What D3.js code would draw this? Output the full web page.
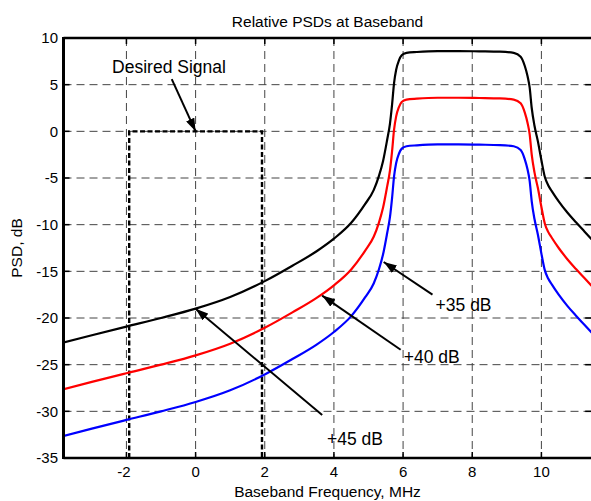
<!DOCTYPE html>
<html>
<head>
<meta charset="utf-8">
<script src="https://cdn.jsdelivr.net/npm/d3@7/dist/d3.min.js"></script>
<style>
  body { margin: 0; background: #fff; }
  text { font-family: "Liberation Sans", Arial, Helvetica, sans-serif; fill: #000; }
</style>
</head>
<body>
<div id="viz"></div>
<script>
// DATA
var freq  = [-3.84, -3, -2, -1, 0, 1, 2, 2.8, 3.5, 4, 4.5, 4.9, 5.15, 5.3, 5.42, 5.54, 5.62, 5.68, 5.74, 5.8, 5.88, 5.96,
             6.1, 6.4, 7.0, 7.6, 8.2, 8.8, 9.2, 9.4, 9.52, 9.6, 9.66, 9.72, 9.8, 9.9, 10.0, 10.1, 10.2, 10.3, 10.5, 10.75, 11.0, 11.25, 11.5];
var psd45 = [-22.65, -21.85, -20.92, -20.0, -19.0, -17.75, -16.05, -14.4, -12.85, -11.5, -9.8, -7.8, -6.3, -4.8, -3.2, -0.9, 0.8, 2.8, 5.2, 6.6, 7.6, 8.15,
             8.4, 8.5, 8.6, 8.6, 8.57, 8.53, 8.4, 8.0, 7.0, 5.9, 4.7, 2.5, 0.6, -1.1, -3.1, -4.9, -5.8, -6.4, -7.5, -8.7, -9.75, -10.75, -11.75];
var psd40 = [-27.65, -26.85, -25.92, -25.0, -24.0, -22.75, -21.05, -19.4, -17.85, -16.5, -14.8, -12.8, -11.3, -9.8, -8.2, -5.9, -4.2, -2.2, 0.2, 1.6, 2.6, 3.15,
             3.4, 3.5, 3.6, 3.6, 3.57, 3.53, 3.4, 3.0, 2.0, 0.9, -0.3, -2.5, -4.4, -6.1, -8.1, -9.9, -10.8, -11.4, -12.5, -13.7, -14.75, -15.75, -16.75];
var psd35 = [-32.65, -31.85, -30.92, -30.0, -29.0, -27.75, -26.05, -24.4, -22.85, -21.5, -19.8, -17.8, -16.3, -14.8, -13.2, -10.9, -9.2, -7.2, -4.8, -3.4, -2.4, -1.85,
             -1.6, -1.5, -1.4, -1.4, -1.43, -1.47, -1.6, -2.0, -3.0, -4.1, -5.3, -7.5, -9.4, -11.1, -13.1, -14.9, -15.8, -16.4, -17.5, -18.7, -19.75, -20.75, -21.75];
var desiredFreq = [-1.92, -1.92, 1.92, 1.92];
var desiredPsd  = [-35, 0, 0, -35];
var xTicks = [-2, 0, 2, 4, 6, 8, 10];
var yTicks = [-35, -30, -25, -20, -15, -10, -5, 0, 5, 10];

// annotations: label, label anchor, arrow tail, arrow tip (data units)
var notes = [
  { text: "Desired Signal", lx: -0.77, ly: 6.2, anchor: "middle", from: [-0.69, 5.6], to: [0, 0] },
  { text: "+45 dB", lx: 3.8, ly: -33.6, anchor: "start", from: [3.66, -30.4], to: [0, -19] },
  { text: "+40 dB", lx: 6.02, ly: -24.8, anchor: "start", from: [5.93, -23.4], to: [3.66, -17.6] },
  { text: "+35 dB", lx: 6.94, ly: -19.2, anchor: "start", from: [6.85, -17.5], to: [5.44, -14.0] }
];

var W = 591, H = 501;
var x = d3.scaleLinear().domain([-3.82, 11.44]).range([63.5, 591.2]);
var y = d3.scaleLinear().domain([-35, 10]).range([458, 38]);

var svg = d3.select("#viz").append("svg")
  .attr("width", W).attr("height", H);

svg.append("defs").append("clipPath").attr("id", "plotclip")
  .append("rect").attr("x", 63.5).attr("y", 38).attr("width", 591.2 - 63.5).attr("height", 420);

var marker = svg.select("defs").append("marker")
  .attr("id", "head").attr("markerUnits", "userSpaceOnUse")
  .attr("viewBox", "0 0 13 9").attr("refX", 13).attr("refY", 4.5)
  .attr("markerWidth", 13).attr("markerHeight", 9).attr("orient", "auto");
marker.append("path").attr("d", "M0,0L13,4.5L0,9Z").attr("fill", "#000");

// GRID
var grid = svg.append("g").attr("stroke", "#444").attr("stroke-width", 1).attr("stroke-dasharray", "8,5");
grid.selectAll(".gx").data(xTicks).enter().append("line")
  .attr("x1", d => x(d)).attr("x2", d => x(d)).attr("y1", 38).attr("y2", 458);
grid.selectAll(".gy").data(yTicks).enter().append("line")
  .attr("x1", 63.5).attr("x2", 591.2).attr("y1", d => y(d)).attr("y2", d => y(d));

var plot = svg.append("g").attr("clip-path", "url(#plotclip)");

// DESIRED SIGNAL BOX
plot.append("path")
  .attr("d", d3.line().x((d, i) => x(desiredFreq[i])).y(d => y(d))(desiredPsd))
  .attr("fill", "none").attr("stroke", "#000").attr("stroke-width", 2.4).attr("stroke-dasharray", "5,2.5");

// CURVES
var line = d3.line().curve(d3.curveMonotoneX).x((d, i) => x(freq[i])).y(d => y(d));
[[psd45, "#000"], [psd40, "#ff0000"], [psd35, "#0000ff"]].forEach(function (s) {
  plot.append("path").attr("d", line(s[0]))
    .attr("fill", "none").attr("stroke", s[1]).attr("stroke-width", 2.2);
});

// AXES (matlab box with inward ticks)
var ax = svg.append("g").attr("stroke", "#000");
ax.append("line").attr("x1", 63.5).attr("x2", 591.2).attr("y1", 38).attr("y2", 38).attr("stroke-width", 2.5);
ax.append("line").attr("x1", 63.5).attr("x2", 591.2).attr("y1", 458).attr("y2", 458).attr("stroke-width", 2.5);
ax.append("line").attr("x1", 63.5).attr("x2", 63.5).attr("y1", 37).attr("y2", 459).attr("stroke-width", 3);
xTicks.forEach(function (t) {
  ax.append("line").attr("x1", x(t)).attr("x2", x(t)).attr("y1", 38).attr("y2", 44).attr("stroke-width", 1.5);
  ax.append("line").attr("x1", x(t)).attr("x2", x(t)).attr("y1", 458).attr("y2", 452).attr("stroke-width", 1.5);
});
yTicks.forEach(function (t) {
  ax.append("line").attr("x1", 63.5).attr("x2", 69.5).attr("y1", y(t)).attr("y2", y(t)).attr("stroke-width", 1.5);
  ax.append("line").attr("x1", 591.2).attr("x2", 585.2).attr("y1", y(t)).attr("y2", y(t)).attr("stroke-width", 1.5);
});

// TICK LABELS
svg.selectAll(".xt").data(xTicks).enter().append("text")
  .attr("x", d => x(d) - (d < 0 ? 2.5 : 0)).attr("y", 477)
  .attr("text-anchor", "middle").style("font-size", "15px").text(d => String(d));
svg.selectAll(".yt").data(yTicks).enter().append("text")
  .attr("x", 58).attr("y", d => y(d) + 5.3)
  .attr("text-anchor", "end").style("font-size", "15px").text(d => String(d));

// TITLES
svg.append("text").attr("x", 327.5).attr("y", 27).attr("text-anchor", "middle")
  .style("font-size", "15.5px").text("Relative PSDs at Baseband");
svg.append("text").attr("x", 327.5).attr("y", 497).attr("text-anchor", "middle")
  .style("font-size", "15.5px").text("Baseband Frequency, MHz");
svg.append("text").attr("transform", "translate(22,248) rotate(-90)").attr("text-anchor", "middle")
  .style("font-size", "15.5px").text("PSD, dB");

// ANNOTATIONS
notes.forEach(function (n) {
  svg.append("line")
    .attr("x1", x(n.from[0])).attr("y1", y(n.from[1]))
    .attr("x2", x(n.to[0])).attr("y2", y(n.to[1]))
    .attr("stroke", "#000").attr("stroke-width", 2).attr("marker-end", "url(#head)");
  svg.append("text").attr("x", x(n.lx)).attr("y", y(n.ly))
    .attr("text-anchor", n.anchor).style("font-size", "17.5px").text(n.text);
});
</script>
</body>
</html>
